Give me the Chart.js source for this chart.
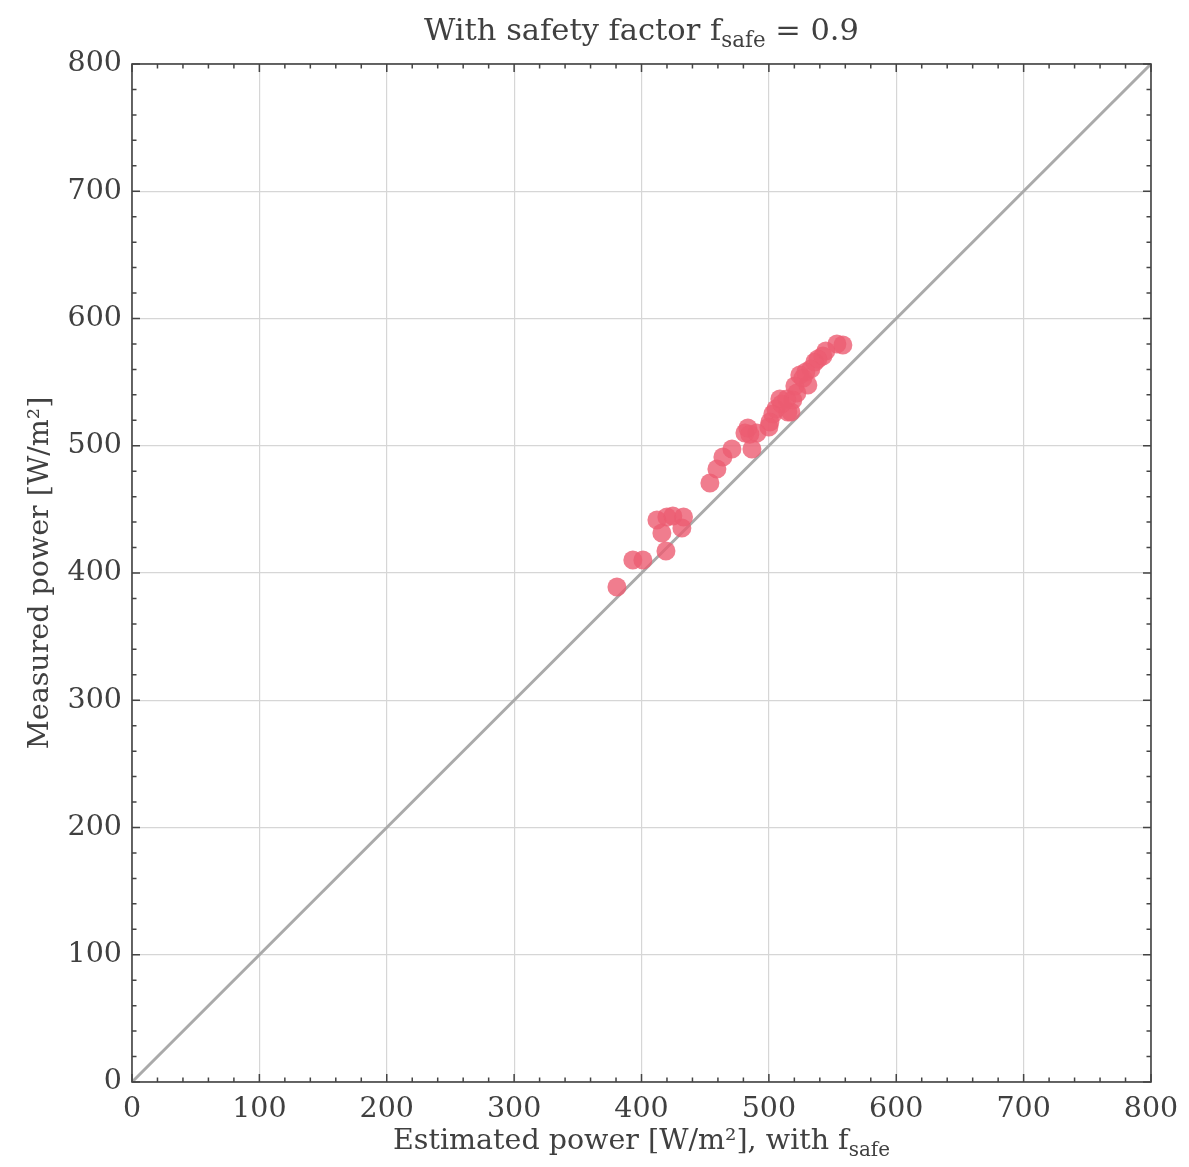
<!DOCTYPE html>
<html>
<head>
<meta charset="utf-8">
<script src="https://cdn.jsdelivr.net/npm/chart.js@4/dist/chart.umd.min.js"></script>
<style>
html,body{margin:0;padding:0;background:#fff;}
#wrap{width:1189px;height:1167px;position:relative;}
</style>
</head>
<body>
<div id="wrap"><canvas id="c" width="1189" height="1167"></canvas></div>
<script>
// Data
const estimatedPower = [380.7,393.2,401.1,412.1,419.9,424.6,433.0,416.0,431.7,419.2,453.7,459.2,463.9,471.0,481.2,483.5,486.7,490.6,485.0,500.8,500.0,503.1,505.5,508.6,514.1,514.9,517.3,518.8,520.4,522.0,524.3,529.0,530.6,533.0,536.1,538.5,542.4,544.7,553.4,558.1,510.0,526.7];
const measuredPower  = [389.0,410.2,410.2,441.7,444.0,444.8,444.0,431.4,435.4,417.3,470.7,481.7,491.2,497.4,510.0,514.0,497.4,510.0,509.0,518.7,514.7,525.0,528.9,536.7,536.7,526.5,526.5,536.0,547.0,541.5,555.6,558.0,547.8,560.3,565.8,568.2,570.5,574.5,580.0,579.2,532.8,553.0];
const diagonalX = [0, 800];
const axisTicks = [0,100,200,300,400,500,600,700,800];
const minorStep = 20;

const FONT = 'DejaVu Serif';
const FS = 28.5;
const TFS = 30.5;
const TXT = '#404040';

const points = estimatedPower.map((x,i)=>({x:x, y:measuredPower[i]}));
const diag = diagonalX.map(v=>({x:v,y:v}));

function drawRich(ctx, parts, cx, cy, size) {
  let total = 0;
  const widths = parts.map(p=>{
    ctx.font = (p.sub ? size*0.7 : size) + 'px "' + FONT + '"';
    const w = ctx.measureText(p.t).width; total += w; return w;
  });
  let x = cx - total/2;
  parts.forEach((p,i)=>{
    ctx.font = (p.sub ? size*0.7 : size) + 'px "' + FONT + '"';
    ctx.fillText(p.t, x, cy + (p.sub ? size*0.3 : 0));
    x += widths[i];
  });
}

const framePlugin = {
  id: 'frame',
  afterDraw(chart) {
    const ctx = chart.ctx;
    const a = chart.chartArea;
    const xs = chart.scales.x, ys = chart.scales.y;
    ctx.save();
    ctx.strokeStyle = '#444';
    ctx.lineWidth = 1.6;
    ctx.strokeRect(a.left, a.top, a.right-a.left, a.bottom-a.top);
    ctx.lineWidth = 1.5;
    ctx.beginPath();
    for (let v = 0; v <= 800; v += minorStep) {
      const major = axisTicks.includes(v);
      const L = major ? 8 : 4.5;
      const px = xs.getPixelForValue(v);
      ctx.moveTo(px, a.bottom); ctx.lineTo(px, a.bottom - L);
      ctx.moveTo(px, a.top); ctx.lineTo(px, a.top + L);
      const py = ys.getPixelForValue(v);
      ctx.moveTo(a.left, py); ctx.lineTo(a.left + L, py);
      ctx.moveTo(a.right, py); ctx.lineTo(a.right - L, py);
    }
    ctx.stroke();
    ctx.fillStyle = TXT;
    ctx.textBaseline = 'middle';
    ctx.textAlign = 'left';
    const cx = (a.left + a.right)/2;
    drawRich(ctx, [{t:'With safety factor f'},{t:'safe',sub:true},{t:' = 0.9'}], cx, 32, TFS);
    drawRich(ctx, [{t:'Estimated power [W/m²], with f'},{t:'safe',sub:true}], cx, 1142, FS);
    ctx.save();
    ctx.translate(41, (a.top + a.bottom)/2);
    ctx.rotate(-Math.PI/2);
    drawRich(ctx, [{t:'Measured power [W/m²]'}], 0, 0, FS);
    ctx.restore();
    ctx.restore();
  }
};

const axisCommon = {
  type: 'linear', min: 0, max: 800,
  ticks: { stepSize: 100, color: TXT, font: {family: FONT, size: FS}, padding: 10 },
  grid: { color: '#d6d6d6', lineWidth: 1.2, drawTicks: false },
  border: { display: false }
};

new Chart(document.getElementById('c'), {
  type: 'scatter',
  data: {
    datasets: [
      { type: 'scatter', data: points, backgroundColor: 'rgba(236,92,114,0.8)', borderWidth: 0, pointRadius: 9.5, pointHoverRadius: 9.5, order: 1 },
      { type: 'line', data: diag, borderColor: '#aaaaaa', borderWidth: 3, pointRadius: 0, fill: false, order: 2 }
    ]
  },
  options: {
    responsive: false,
    animation: false,
    events: [],
    layout: { padding: { top: 64, right: 38, left: 0, bottom: 0 } },
    plugins: { legend: { display: false }, title: { display: false }, tooltip: { enabled: false } },
    scales: {
      x: Object.assign({}, axisCommon, { afterFit(s){ s.height = 85; } }),
      y: Object.assign({}, axisCommon, { afterFit(s){ s.width = 132; } })
    }
  },
  plugins: [framePlugin]
});
</script>
</body>
</html>
